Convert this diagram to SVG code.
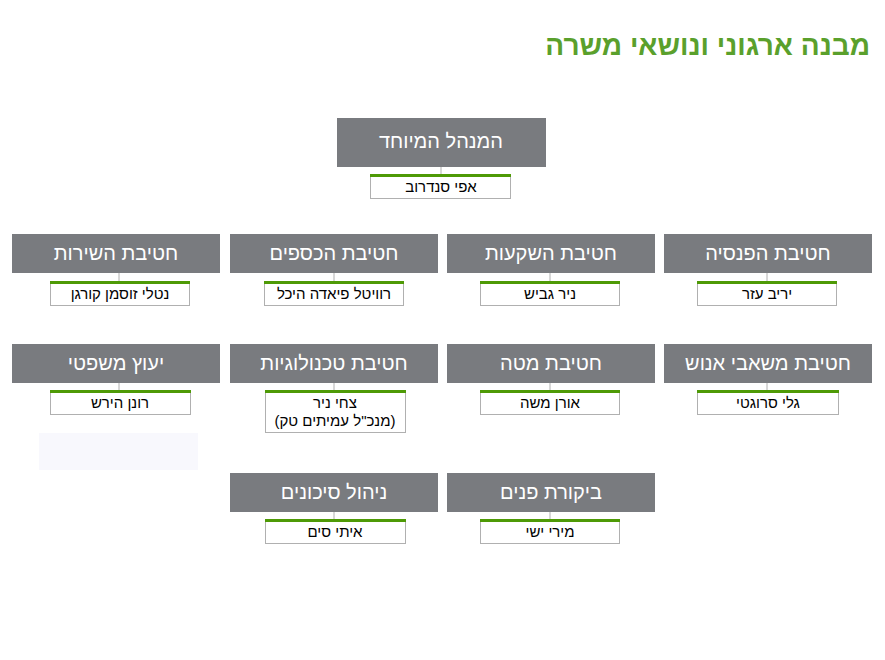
<svg xmlns="http://www.w3.org/2000/svg" width="885" height="660" viewBox="0 0 885 660">
<style>
.h{fill:#797b7f}
.ht{fill:#fff;font-family:"Liberation Sans",Arial,sans-serif;font-size:20px;text-anchor:middle;direction:rtl}
.n{fill:#fff;stroke:#b0b0b0;stroke-width:1}
.g{fill:#4e9a06}
.nt{fill:#000;font-family:"Liberation Sans",Arial,sans-serif;font-size:15px;text-anchor:middle;direction:rtl}
.c{stroke:#b0b0b0;stroke-width:1}
</style>
<rect width="885" height="660" fill="#fff"/>
<text x="870" y="55" fill="#5aa02c" font-family="Liberation Sans,Arial,sans-serif" font-size="28" font-weight="bold" text-anchor="start" direction="rtl">מבנה ארגוני ונושאי משרה</text>
<rect x="39" y="433" width="159" height="37" fill="#f8f8fd"/>
<g id="connectors">
<line class="c" x1="441" y1="167" x2="441" y2="174"/>
<line class="c" x1="119" y1="273" x2="119" y2="281"/><line class="c" x1="334" y1="273" x2="334" y2="281"/><line class="c" x1="550" y1="273" x2="550" y2="281"/><line class="c" x1="767" y1="273" x2="767" y2="281"/>
<line class="c" x1="119" y1="383" x2="119" y2="390"/><line class="c" x1="334" y1="383" x2="334" y2="390"/><line class="c" x1="550" y1="383" x2="550" y2="390"/><line class="c" x1="767" y1="383" x2="767" y2="390"/>
<line class="c" x1="334" y1="512" x2="334" y2="519"/><line class="c" x1="550" y1="512" x2="550" y2="519"/>
</g>
<g id="ceo"><rect class="h" x="337" y="118" width="209" height="49"/><text class="ht" x="441" y="148">המנהל המיוחד</text>
<rect class="n" x="370.5" y="174.5" width="140" height="24"/><rect class="g" x="370" y="174" width="141" height="3"/><text class="nt" x="441" y="192">אפי סנדרוב</text></g>
<g id="pensia"><rect class="h" x="664" y="234" width="208" height="39"/><text class="ht" x="768" y="260">חטיבת הפנסיה</text>
<rect class="n" x="697.5" y="281.5" width="139" height="24"/><rect class="g" x="697" y="281" width="140" height="3"/><text class="nt" x="767" y="299">יריב עזר</text></g>
<g id="investments"><rect class="h" x="447" y="234" width="208" height="39"/><text class="ht" x="551" y="260">חטיבת השקעות</text>
<rect class="n" x="480.5" y="281.5" width="139" height="24"/><rect class="g" x="480" y="281" width="140" height="3"/><text class="nt" x="550" y="299">ניר גביש</text></g>
<g id="finance"><rect class="h" x="230" y="234" width="208" height="39"/><text class="ht" x="334" y="260">חטיבת הכספים</text>
<rect class="n" x="264.5" y="281.5" width="139" height="24"/><rect class="g" x="264" y="281" width="140" height="3"/><text class="nt" x="334" y="299">רוויטל פיאדה היכל</text></g>
<g id="service"><rect class="h" x="12" y="234" width="208" height="39"/><text class="ht" x="116" y="260">חטיבת השירות</text>
<rect class="n" x="50.5" y="281.5" width="139" height="24"/><rect class="g" x="50" y="281" width="140" height="3"/><text class="nt" x="120" y="299">נטלי זוסמן קורגן</text></g>
<g id="hr"><rect class="h" x="664" y="344" width="208" height="39"/><text class="ht" x="768" y="370">חטיבת משאבי אנוש</text>
<rect class="n" x="697.5" y="390.5" width="141" height="24"/><rect class="g" x="697" y="390" width="142" height="3"/><text class="nt" x="768" y="408">גלי סרוגטי</text></g>
<g id="staff"><rect class="h" x="447" y="344" width="208" height="39"/><text class="ht" x="551" y="370">חטיבת מטה</text>
<rect class="n" x="480.5" y="390.5" width="139" height="24"/><rect class="g" x="480" y="390" width="140" height="3"/><text class="nt" x="550" y="408">אורן משה</text></g>
<g id="tech"><rect class="h" x="230" y="344" width="208" height="39"/><text class="ht" x="334" y="370">חטיבת טכנולוגיות</text>
<rect class="n" x="265.5" y="390.5" width="140" height="42"/><rect class="g" x="265" y="390" width="141" height="3"/><text class="nt" x="335" y="408">צחי ניר</text><text class="nt" x="335" y="426">(מנכ"ל עמיתים טק)</text></g>
<g id="legal"><rect class="h" x="12" y="344" width="208" height="39"/><text class="ht" x="116" y="370">יעוץ משפטי</text>
<rect class="n" x="50.5" y="390.5" width="140" height="24"/><rect class="g" x="50" y="390" width="141" height="3"/><text class="nt" x="120" y="408">רונן הירש</text></g>
<g id="audit"><rect class="h" x="447" y="473" width="208" height="39"/><text class="ht" x="551" y="499">ביקורת פנים</text>
<rect class="n" x="480.5" y="519.5" width="139" height="24"/><rect class="g" x="480" y="519" width="140" height="3"/><text class="nt" x="550" y="537">מירי ישי</text></g>
<g id="risk"><rect class="h" x="230" y="473" width="208" height="39"/><text class="ht" x="334" y="499">ניהול סיכונים</text>
<rect class="n" x="265.5" y="519.5" width="140" height="24"/><rect class="g" x="265" y="519" width="141" height="3"/><text class="nt" x="335" y="537">איתי סים</text></g>
</svg>
